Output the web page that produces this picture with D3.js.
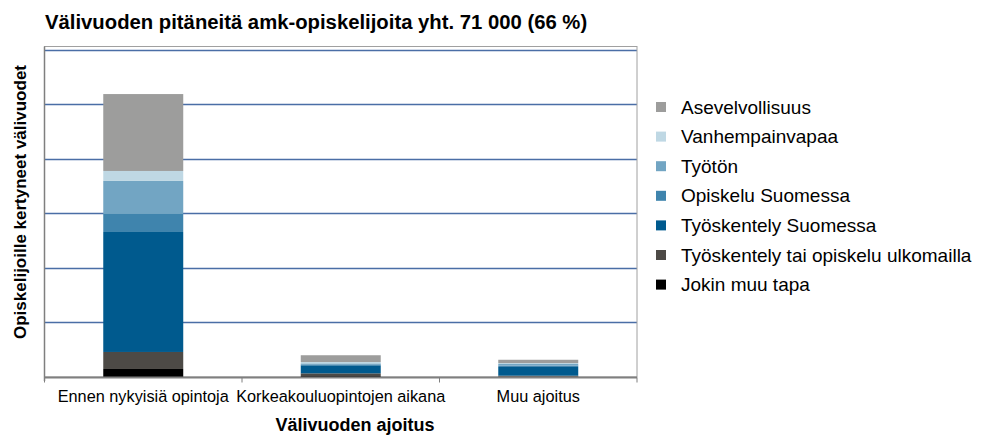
<!DOCTYPE html>
<html>
<head>
<meta charset="utf-8">
<script src="https://cdn.jsdelivr.net/npm/d3@7"></script>
<style>
  body { margin: 0; background: #fff; }
  text { font-family: "Liberation Sans", Arial, sans-serif; fill: #000; }
</style>
</head>
<body>
<div id="svg"></div>
<script>
// data
const ajoitukset = ["Ennen nykyisiä opintoja", "Korkeakouluopintojen aikana", "Muu ajoitus"];
const sarjat = [
    "Asevelvollisuus",
    "Vanhempainvapaa",
    "Työtön",
    "Opiskelu Suomessa",
    "Työskentely Suomessa",
    "Työskentely tai opiskelu ulkomailla",
    "Jokin muu tapa"
];
const varit = ["#9d9d9c", "#bfd8e4", "#72a5c3", "#3f84ad", "#005a8e", "#4d4a46", "#000000"];
// välivuodet per ajoitus (estimated)
const asevelvollisuus = [14100, 1250, 600];
const vanhempainvapaa = [1830, 240, 180];
const tyoton = [6060, 180, 300];
const opiskeluSuomessa = [3300, 180, 240];
const tyoSuomessa = [22000, 1470, 1600];
const ulkomailla = [3120, 490, 180];
const jokinMuu = [1470, 180, 60];
const gridTicks = [10000, 20000, 30000, 40000, 50000, 60000];

const arvot = [asevelvollisuus, vanhempainvapaa, tyoton, opiskeluSuomessa, tyoSuomessa, ulkomailla, jokinMuu];

const width = 988, height = 436;
const margin = { top: 46.5, left: 44.5, right: 351, bottom: 58 };

const svg = d3.select("#svg").append("svg")
    .attr("width", width)
    .attr("height", height);

// rows for stack, bottom series first
const taulu = ajoitukset.map((a, i) => {
    const r = { ajoitus: a };
    sarjat.forEach((s, j) => { r[s] = arvot[j][i]; });
    return r;
});
const pino = d3.stack().keys(sarjat.slice().reverse())(taulu);

const x = d3.scaleBand()
    .domain(ajoitukset)
    .range([margin.left, width - margin.right])
    .paddingInner(0.595)
    .paddingOuter(0.2975);
const y = d3.scaleLinear()
    .domain([0, 60600])
    .range([height - margin.bottom - 1, margin.top]);

const vari = d3.scaleOrdinal().domain(sarjat).range(varit);

const x0 = margin.left, x1 = width - margin.right;

// gridlines
svg.append("g")
    .selectAll("line")
    .data(gridTicks)
    .join("line")
    .attr("x1", x0).attr("x2", x1)
    .attr("y1", d => Math.round(y(d)) + 0.5)
    .attr("y2", d => Math.round(y(d)) + 0.5)
    .attr("stroke", "#4a6ea6")
    .attr("stroke-width", 1.3);

// frame
svg.append("rect")
    .attr("x", x0).attr("y", margin.top)
    .attr("width", x1 - x0).attr("height", y(0) - margin.top)
    .attr("fill", "none")
    .attr("stroke", "#a0a0a0")
    .attr("stroke-width", 1);

// bars
svg.append("g")
    .selectAll("g")
    .data(pino)
    .join("g")
    .attr("fill", d => vari(d.key))
    .selectAll("rect")
    .data(d => d)
    .join("rect")
    .attr("x", d => x(d.data.ajoitus))
    .attr("width", x.bandwidth())
    .attr("y", d => y(d[1]))
    .attr("height", d => y(d[0]) - y(d[1]));

// x axis
const xAkseli = svg.append("g")
    .attr("transform", `translate(0,${y(0) + 0.5})`);
xAkseli.append("line")
    .attr("x1", x0).attr("x2", x1)
    .attr("stroke", "#7f7f7f").attr("stroke-width", 2);
const rajat = [x0].concat(ajoitukset.map(a => x(a) + x.bandwidth() + x.step() * 0.2975));
xAkseli.selectAll("line.tick")
    .data(rajat)
    .join("line")
    .attr("class", "tick")
    .attr("x1", d => d).attr("x2", d => d)
    .attr("y1", 0).attr("y2", 5)
    .attr("stroke", "#7f7f7f");
xAkseli.selectAll("text")
    .data(ajoitukset)
    .join("text")
    .attr("x", d => x(d) + x.bandwidth() / 2)
    .attr("y", 24)
    .attr("text-anchor", "middle")
    .style("font-size", "16.3px")
    .text(d => d);

// y axis line
svg.append("line")
    .attr("x1", x0).attr("x2", x0)
    .attr("y1", margin.top).attr("y2", y(0) + 4)
    .attr("stroke", "#7f7f7f").attr("stroke-width", 1.5);

// titles
svg.append("text")
    .attr("x", 45).attr("y", 29)
    .style("font-size", "20.3px").style("font-weight", "bold")
    .text("Välivuoden pitäneitä amk-opiskelijoita yht. 71 000 (66 %)");

svg.append("text")
    .attr("x", 355).attr("y", 431)
    .attr("text-anchor", "middle")
    .style("font-size", "18px").style("font-weight", "bold")
    .text("Välivuoden ajoitus");

svg.append("text")
    .attr("transform", "translate(26,202) rotate(-90)")
    .attr("text-anchor", "middle")
    .style("font-size", "17px").style("font-weight", "bold")
    .text("Opiskelijoille kertyneet välivuodet");

// legend
const selite = svg.append("g")
    .selectAll("g")
    .data(sarjat)
    .join("g")
    .attr("transform", (d, i) => `translate(656,${107 + i * 29.6})`);
selite.append("rect")
    .attr("x", 0).attr("y", -5)
    .attr("width", 10).attr("height", 10)
    .attr("fill", d => vari(d));
selite.append("text")
    .attr("x", 25).attr("y", 6.5)
    .style("font-size", "19px")
    .text(d => d);
</script>
</body>
</html>
